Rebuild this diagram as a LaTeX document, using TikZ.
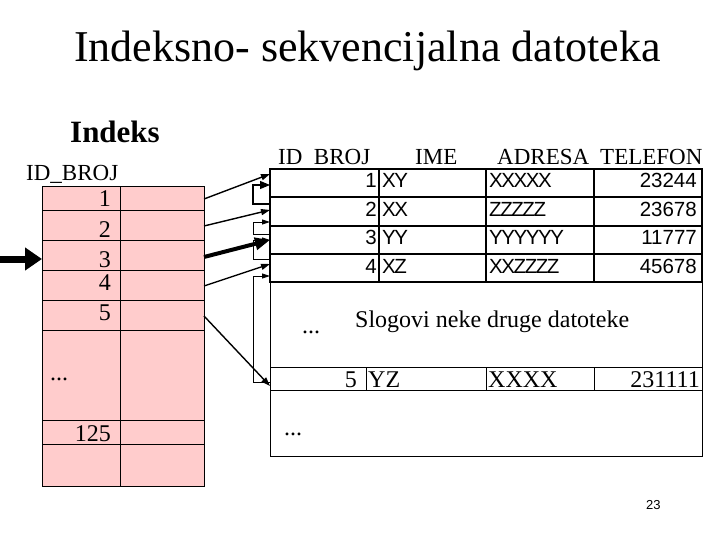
\documentclass[tikz,border=0pt]{standalone}
\usepackage{fontspec}
\setmainfont{Liberation Serif}
\newfontfamily\arialfont{Liberation Sans}
\newfontfamily\arialtight{Liberation Sans}[LetterSpace=-7]
\usetikzlibrary{calc}
\usetikzlibrary{arrows.meta}
\definecolor{indexpink}{RGB}{255,204,204}
\tikzstyle{indexcell}=[draw,fill=indexpink,line width=0.8pt]
\tikzstyle{txt}=[inner sep=0pt]
\tikzstyle{rowbox}=[line width=1.6pt]
\tikzstyle{thinbox}=[line width=0.9pt]
\tikzstyle{pointer}=[-{Triangle[length=9pt,width=6pt]},line width=1.4pt]
\tikzstyle{bigpointer}=[-{Triangle[length=15pt,width=12pt]},line width=4pt]
\tikzstyle{enterarrow}=[-{Triangle[length=17pt,width=22pt]},line width=7pt]
\tikzstyle{chain}=[-{Triangle[length=8pt,width=5pt]},line width=0.9pt]
\tikzstyle{boldchain}=[-{Triangle[length=10pt,width=8pt]},line width=1.1pt]
\newcommand{\titlesize}{\fontsize{44}{50}\selectfont}
\newcommand{\headsize}{\fontsize{23}{27}\selectfont}
\newcommand{\cellsize}{\fontsize{24}{28}\selectfont}
\newcommand{\rowsize}{\fontsize{20.5}{24}\selectfont}
\begin{document}
\begin{tikzpicture}[x=1pt,y=-1pt]
  \useasboundingbox (0,0) rectangle (720,540);
  \node[txt,anchor=base west] (title) at (74,62) {\titlesize Indeksno- sekvencijalna datoteka};
  \node[txt,anchor=base west] (indeks) at (70,143) {\fontsize{31}{36}\selectfont\bfseries Indeks};
  \node[txt,anchor=base west] (idbroj) at (26,181) {\headsize ID\_BROJ};
  % index table
  \foreach \top/\bot/\i in {186/210/1,210/240/2,240/270/3,270/300/4,300/330/5,330/420/6,420/444/7,444/486/8} {
    \draw[indexcell] (42,\top) rectangle (120,\bot);
    \draw[indexcell] (120,\top) rectangle (204,\bot);
    \coordinate (c\i) at (42,{(\top+\bot)/2});
    \coordinate (p\i) at (204,{(\top+\bot)/2});
  }
  \foreach \n/\y in {1/207,2/237,3/267,4/290,5/320,125/441}
    \node[txt,anchor=base east] (k\n) at (111,\y) {\cellsize \n};
  \node[txt,anchor=base west] (kdots) at (50,380) {\cellsize ...};
  % data file header
  \node[txt,anchor=base west] (hid) at (278,165) {\headsize ID~~BROJ};
  \node[txt,anchor=base west] (hime) at (415,165) {\headsize IME};
  \node[txt,anchor=base west] (hadr) at (497,165) {\headsize ADRESA};
  \node[txt,anchor=base west] (htel) at (600,165) {\headsize TELEFON};
  % records 1-4
  \foreach \top/\bot in {169/197,197/226,226/254,254/282} {
    \draw[rowbox] (270,\top) rectangle (702,\bot);
    \foreach \x in {379,486,594} \draw[line width=1.2pt] (\x,\top) -- (\x,\bot);
  }
  \foreach \i/\y/\nm/\ad/\ph in {1/188/XY/XXXXX/23244,2/216/XX/ZZZZZ/23678,3/244/YY/YYYYYY/11777,4/273/XZ/XXZZZZ/45678} {
    \node[txt,anchor=base east] (id\i) at (377,\y) {\arialfont\rowsize \i};
    \node[txt,anchor=base west] (ime\i) at (382,\y) {\arialtight\rowsize \nm};
    \node[txt,anchor=base west] (adr\i) at (489,\y) {\arialtight\rowsize \ad};
    \node[txt,anchor=base east] (tel\i) at (697,\y) {\arialfont\rowsize \ph};
  }
  % other records
  \draw[thinbox] (270,282) rectangle (702,456);
  \draw[thinbox] (270,367) rectangle (702,390);
  \foreach \x in {366,486,594} \draw[thinbox] (\x,367) -- (\x,390);
  \node[txt,anchor=base west] (dots1) at (302,333) {\cellsize ...};
  \node[txt,anchor=base west] (drugi) at (355,327) {\cellsize Slogovi neke druge datoteke};
  \node[txt,anchor=base east] (id5) at (357,387) {\cellsize 5};
  \node[txt,anchor=base west] (ime5) at (368,387) {\cellsize YZ};
  \node[txt,anchor=base west] (adr5) at (488,387) {\cellsize XXXX};
  \node[txt,anchor=base east] (tel5) at (700,387) {\cellsize 231111};
  \node[txt,anchor=base west] (dots2) at (284,435) {\cellsize ...};
  % chain of records
  \foreach \i/\a/\b/\s in {1/204/185/boldchain,2/234/222/chain,3/259/240/chain,4/382/276/chain} {
    \coordinate (from\i) at (270,\a);
    \coordinate (to\i) at (270,\b);
    \draw[\s] (from\i) -- ++(-17,0) |- (to\i);
  }
  % index pointers
  \foreach \i/\y in {1/174,2/210,4/264,5/386} {
    \coordinate (r\i) at (270,\y);
    \draw[pointer] ([yshift=-1pt]p\i) -- (r\i);
  }
  \coordinate (r3) at (270,240);
  \draw[bigpointer] ([yshift=-2pt]p3) -- (r3);
  \coordinate (enter) at (0,259);
  \draw[enterarrow] (enter) -- ([yshift=-4pt]c3);
  \node[txt,anchor=base west] (page) at (646,509) {\arialfont\fontsize{13}{15}\selectfont 23};
\end{tikzpicture}
\end{document}
